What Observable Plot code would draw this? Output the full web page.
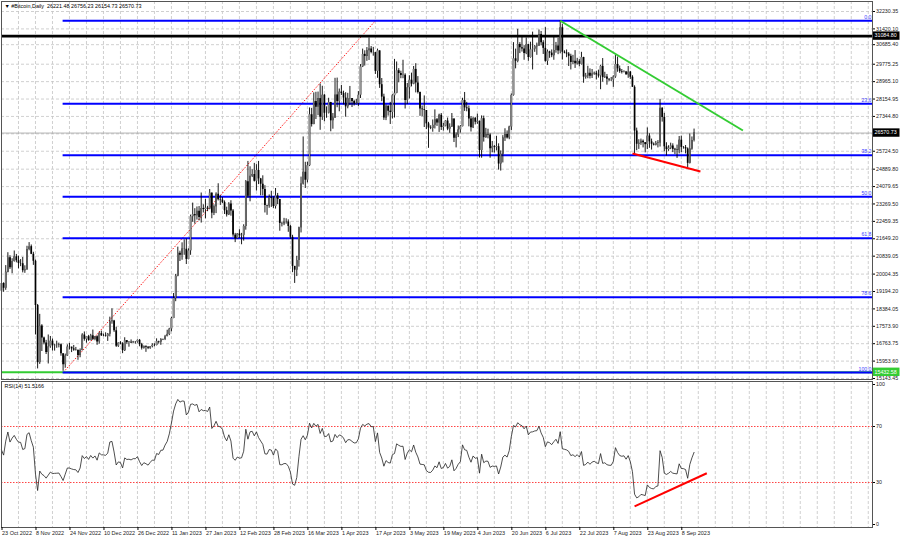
<!DOCTYPE html>
<html><head><meta charset="utf-8">
<script src="https://cdn.jsdelivr.net/npm/d3@7"></script>
<script src="https://cdn.jsdelivr.net/npm/@observablehq/plot@0.6"></script>
<style>
html,body{margin:0;padding:0;background:#fff;}
#chart{position:relative;width:900px;height:539px;overflow:hidden;font-family:"Liberation Sans",Arial,sans-serif;background:#fff;}
#chart svg{position:absolute;left:0;}
</style></head><body><div id="chart"></div>
<script>
// ---------- header / labels ----------
const headerText = "\u25BC #Bitcoin,Daily  26221.48 26756.23 26154.73 26570.73";
const rsiLabel = "RSI(14) 51.5166";
const dateLabels = ["23 Oct 2022","8 Nov 2022","24 Nov 2022","10 Dec 2022","26 Dec 2022","11 Jan 2023","27 Jan 2023","12 Feb 2023","28 Feb 2023","16 Mar 2023","1 Apr 2023","17 Apr 2023","3 May 2023","19 May 2023","4 Jun 2023","20 Jun 2023","6 Jul 2023","22 Jul 2023","7 Aug 2023","23 Aug 2023","8 Sep 2023"];
const priceTicks = [32230.35,31420.10,30685.40,29775.25,28965.10,28154.95,27344.80,25724.50,24889.80,24079.65,23269.50,22459.35,21649.20,20839.05,20004.35,19194.20,18384.05,17573.90,16763.75,15953.60,15143.45];
const hiddenGridTick = [26534.65];
const rsiTicks = [100,70,30,0];
const rsiLevels = [70,30];

// ---------- levels ----------
const blackLevel = 31084.80;
const currentPrice = 26570.73;
const greenLevel = 15432.58;
const fibHigh = 31800, fibLow = 15420;
const fibLevels = [0,23.6,38.2,50,61.8,78.6,100];
const fibStart = "2022-11-21";
const fibDiagEnd = "2023-04-17";

// ---------- trend lines [date1, value1, date2, value2] ----------
const greenTrend = ["2023-07-13",31800,"2023-10-07",26690];
const redTrend   = ["2023-08-16",25619,"2023-09-17",24781];
const rsiTrend   = ["2023-08-17",12.9,"2023-09-20",36.6];

// ---------- price data ----------
// closes before the first visible bar (1 Sep - 22 Oct 2022), used for RSI warm-up
const warmupCloses = [20127,19953,19832,19986,19812,18838,19290,19329,21382,21680,21769,22371,20296,20241,19701,19772,20127,19419,19544,18890,18547,19414,19297,18937,18803,19222,19110,19426,19573,19431,
19312,19044,19623,20336,20160,19955,19546,19416,19446,19141,19051,19157,19382,19185,19067,19268,19550,19334,19139,19053,19172,19208];
// daily [close, high, low], open = previous close
const oct22 = [[19567,19690,19070],[19345,19600,19160],[20095,20400,19250],[20771,21000,20060],[20295,20860,20220],[20592,20720,20020],[20809,21080,20560],[20627,20920,20530],[20496,20840,20250]];
const nov22 = [[20485,20680,20350],[20159,20780,20060],[20209,20390,20040],[21147,21300,20180],[21282,21470,21090],[20926,21360,20910],[20602,21020,20410],[18541,20660,17170],[15880,18590,15590],[17586,18130,15800],
[17034,17650,16400],[16800,17070,16710],[16354,16920,16260],[16618,17170,15820],[16884,17100,16550],[16669,16980,16420],[16688,16740,16420],[16697,16880,16550],[16711,16790,16570],[16291,16750,16180],
[15787,16290,15480],[16189,16280,15620],[16610,16710,16170],[16604,16780,16470],[16521,16600,16350],[16464,16680,16410],[16444,16590,16420],[16217,16480,15990],[16444,16520,16110],[17168,17230,16430]];
const dec22 = [[16968,17310,16880],[17088,17100,16790],[16908,17150,16880],[17130,17200,16900],[16974,17400,16910],[17089,17100,16900],[16848,17130,16690],[17233,17300,16740],[17133,17350,17100],[17128,17210,17090],
[17105,17270,17070],[17206,17240,16870],[17781,18000,17080],[17815,18390,17670],[17364,17850,17290],[16647,17530,16590],[16796,16800,16590],[16757,16860,16710],[16439,16810,16300],[16906,17040,16400],
[16817,16910,16740],[16830,16860,16600],[16796,16940,16770],[16847,16870,16790],[16841,16860,16740],[16919,16940,16790],[16717,16960,16620],[16552,16780,16470],[16642,16650,16510],[16602,16650,16360],[16547,16630,16490]];
const jan23 = [[16625,16630,16500],[16688,16760,16570],[16680,16760,16620],[16863,16990,16660],[16836,16880,16750],[16951,17000,16690],[16955,16980,16910],[17091,17150,16910],[17196,17390,17090],[17446,17480,17140],
[17934,17990,17320],[18869,19100,17930],[19909,19990,18720],[20976,21260,19880],[20880,21070,20590],[21169,21460,20650],[21161,21600,20880],[20688,21640,20450],[21086,21180,20670],[22676,22750,20880],
[22777,23310,22420],[22720,23050,22330],[22934,23130,22520],[22637,23150,22480],[23058,23780,22380],[23009,23230,22850],[23074,23480,22580],[23032,23160,22910],[23775,23940,23000],[22840,23780,22580],[23139,23230,22730]];
const feb23 = [[23723,23790,22820],[23471,24210,23410],[23449,23660,23200],[23331,23570,23290],[22955,23410,22780],[22760,23120,22660],[23264,23330,22730],[22939,23420,22700],[21819,23010,21720],[21651,21900,21470],
[21870,21890,21630],[21788,22070,21660],[21808,21900,21370],[22220,22300,21540],[24307,24360,22050],[23623,25250,23540],[24565,25000,23370],[24641,24860,24500],[24327,25160,24290],[24829,25100,23870],
[24436,25250,24170],[24188,24460,23650],[23947,24580,23650],[23198,24120,22850],[23175,23210,22740],[23561,23690,23070],[23522,23860,23110],[23147,23600,23060]];
const mar23 = [[23646,23990,23030],[23475,23760,23240],[22362,23480,22000],[22354,22410,22200],[22435,22600,22260],[22429,22580,22330],[22219,22530,21950],[21718,22280,21620],[20363,21810,20070],[20187,20300,19570],
[20633,20830,19890],[22163,22190,20330],[24197,24520,21920],[24746,26390,24150],[24375,25210,23990],[25052,25210,24250],[27423,27740,25010],[26966,27720,26850],[28038,28440,26960],[27767,28470,27200],
[28175,28480,27380],[27307,28860,26700],[28333,28750,27160],[27493,28360,27100],[27494,27790,27260],[27994,28190,27460],[27139,28000,26630],[27268,27480,26750],[28348,29120,27250],[28033,29130,27750],[28478,28620,27560]];
const apr23 = [[28411,28790,28320],[28199,28520,27880],[27790,28450,27310],[28168,28420,27700],[28177,28740,27850],[28044,28170,27760],[27925,28100,27830],[27947,28140,27880],[28333,28500,27810],[29653,29760,28180],
[30235,30480,29620],[30139,30400,29690],[30400,30550,29910],[30485,31000,29950],[30318,30600,30260],[30315,30560,30150],[29445,30320,29300],[30397,30480,29120],[28822,30400,28650],[28245,29110,28030],
[27276,28380,27160],[27817,27880,27150],[27591,27840,27360],[27525,28000,26970],[28307,28360,27230],[28422,30000,27270],[29473,29880,28400],[29340,29570,28910],[29249,29450,29100],[29268,29960,29100]];
const may23 = [[28091,29330,27690],[28680,28880,27900],[29032,29240,28160],[28848,29360,28720],[29535,29670,28820],[28905,29800,28440],[28454,29200,28390],[27694,28480,27350],[27658,27830,27330],[27621,28300,26830],
[27000,27610,26730],[26805,27070,25860],[26785,26910,26730],[26931,27180,26610],[27192,27650,26760],[27036,27250,26880],[27399,27450,26600],[26833,27480,26690],[26890,27020,26660],[27130,27150,26860],
[26753,27270,26680],[26851,27000,26560],[27226,27480,26830],[26334,27220,26130],[26477,26580,25880],[26719,26900,26360],[26868,26920,26570],[28086,28190,26860],[27745,28460,27580],[27703,28000,27560],[27220,27830,26860]];
const jun23 = [[26820,27340,26620],[27252,27300,26780],[27076,27300,26950],[27119,27450,26980],[25761,27130,25410],[27239,27370,25400],[26355,27360,26150],[26498,26790,26330],[26478,26750,26300],[25842,26540,25400],
[25941,26180,25650],[25905,26000,25640],[25935,26420,25740],[25129,26070,24850],[25589,25740,24800],[26338,26450,25180],[26499,26770,26180],[26340,26670,26290],[26851,26890,26260],[28327,28390,26680],
[30027,30780,28290],[29913,30480,29560],[30695,31400,29840],[30548,30780,30270],[30480,31040,30340],[30271,30640,29960],[30689,31000,30220],[30086,30700,29910],[30446,30800,30060],[30477,31270,29510]];
const jul23 = [[30590,30650,30330],[30620,30760,30190],[31156,31370,30600],[30777,31300,30630],[30514,30870,30230],[29909,31480,29870],[30346,30440,29720],[30292,30380,30050],[30171,30440,30080],[30414,31030,29960],
[30620,30790,30290],[30391,30980,30220],[31476,31800,30260],[30334,31630,29970],[30295,30400,30260],[30249,30440,30080],[30145,30320,29670],[29856,30240,29510],[29913,30190,29760],[29792,30410,29580],
[29908,30050,29740],[29771,29990,29660],[30084,30330,29740],[29176,30100,28890],[29227,29350,29080],[29354,29680,29100],[29210,29560,29090],[29319,29530,29110],[29356,29410,29260],[29275,29450,29040],[29230,29500,29130]];
const aug23 = [[29676,29730,28590],[29152,30040,28940],[29179,29400,29110],[29074,29300,28800],[29042,29100,28960],[29041,29160,28970],[29180,29240,28700],[29765,30180,29120],[29561,30110,29400],[29429,29690,29350],
[29397,29530,29320],[29415,29470,29370],[29282,29440,29260],[29408,29670,29120],[29170,29440,29070],[28701,29240,28700],[26664,28770,25600],[26049,26800,25750],[26096,26260,25810],[26189,26290,26000],
[26124,26250,25880],[26031,26130,25650],[26431,26810,25800],[26163,26540,25860],[26049,26290,25780],[26008,26110,25970],[26089,26180,25970],[26106,26220,25880],[27727,28140,25920],[27297,27750,27080],[25931,27490,25700]];
const sep23 = [[25800,26120,25500],[25868,25980,25720],[25969,26100,25800],[25812,26070,25660],[25779,25860,25570],[25753,26010,25390],[26240,26410,25600],[25905,26430,25660],[25895,25940,25820],[25832,25990,25600],
[25162,25880,24950],[25833,26530,25130],[26221.48,26390,25770],[26570.73,26756.23,26154.73]];

// ---------- build table ----------
const parse = d3.utcParse("%Y-%m-%d");
const startDate = parse("2022-10-23");
const endDate = parse("2023-12-07");
const rows = [].concat(oct22,nov22,dec22,jan23,feb23,mar23,apr23,may23,jun23,jul23,aug23,sep23);
let prev = warmupCloses[warmupCloses.length-1];
const bars = rows.map((r,i)=>{
  const o = prev, c = r[0];
  prev = c;
  return {date: d3.utcDay.offset(startDate,i), open:o, close:c,
          high: Math.max(r[1],o,c), low: Math.min(r[2],o,c), up: c>=o};
});
// RSI(14), Wilder smoothing over all closes
const allCloses = warmupCloses.concat(rows.map(r=>r[0]));
function wilderRSI(cl,n){
  const out = new Array(cl.length).fill(NaN);
  let g=0,l=0;
  for(let i=1;i<=n;i++){const d=cl[i]-cl[i-1]; if(d>0) g+=d; else l-=d;}
  g/=n; l/=n; out[n]=100-100/(1+g/l);
  for(let i=n+1;i<cl.length;i++){const d=cl[i]-cl[i-1]; g=(g*(n-1)+Math.max(d,0))/n; l=(l*(n-1)+Math.max(-d,0))/n; out[i]= l===0?100:100-100/(1+g/l);}
  return out;
}
const rsiAll = wilderRSI(allCloses,14);
const rsiData = bars.map((b,i)=>({date:b.date, rsi: rsiAll[i+warmupCloses.length]}));

const labelDates = dateLabels.map(d3.utcParse("%e %b %Y"));
const gridDates = d3.utcDay.range(startDate, endDate, 8);
const fmtDate = d3.utcFormat("%-d %b %Y");
const fibPrice = lv => fibHigh - (fibHigh-fibLow)*lv/100;
const seg = a => ({x1:parse(a[0]), y1:a[1], x2:parse(a[2]), y2:a[3]});

const FONT = "Liberation Sans, Arial, sans-serif";
const gridStyle = {stroke:"#c4c4c4", strokeDasharray:"3,2", strokeWidth:0.8};

function tag(value, text, bg){
  return Plot.dot([value], {y: d=>d, frameAnchor:"right", r:0,
    render(index, scales, values, dims){
      const y = values.y[index[0]];
      const x0 = dims.width - dims.marginRight;
      const g = d3.create("svg:g");
      g.append("rect").attr("x", x0+1).attr("y", y-4.2).attr("width", 26.5).attr("height", 8.4).attr("fill", bg);
      g.append("text").attr("x", x0+2.5).attr("y", y).attr("dy","0.35em").attr("fill","#fff")
        .attr("text-anchor","start").style("font-size","5.3px").style("font-family", FONT).text(text);
      return g.node();
    }});
}

const xScale = {type:"utc", domain:[startDate,endDate], range:[1,872], axis:null};

const main = Plot.plot({
  width:900, height:380, marginTop:1, marginBottom:1, marginLeft:1, marginRight:28,
  x: xScale,
  y: {domain:[15143.45,32230.35], range:[378,11], axis:null},
  style:{background:"transparent", fontFamily:FONT, fontSize:"5.3px", overflow:"visible"},
  marks:[
    Plot.ruleX(gridDates, {x:d=>d, ...gridStyle}),
    Plot.ruleY(priceTicks.concat(hiddenGridTick), {y:d=>d, ...gridStyle}),
    Plot.ruleY([currentPrice], {y:d=>d, stroke:"#a0a0a0", strokeWidth:0.8}),
    Plot.link([seg([fibStart,fibLow,fibDiagEnd,fibHigh])], {x1:"x1",y1:"y1",x2:"x2",y2:"y2", stroke:"#ff0000", strokeWidth:0.9, strokeDasharray:"1.5,1.5"}),
    Plot.ruleY([blackLevel], {y:d=>d, stroke:"#000", strokeWidth:2.6}),
    Plot.ruleY([greenLevel], {y:d=>d, stroke:"#33cc33", strokeWidth:2}),
    Plot.ruleY(fibLevels, {y:fibPrice, x1:()=>parse(fibStart), x2:()=>endDate, stroke:"#0000ff", strokeWidth:2}),
    Plot.text(fibLevels, {y:fibPrice, frameAnchor:"right", text:d=>d.toFixed(1), textAnchor:"end", dx:-1, dy:-3.6, fill:"#4040ff", fontSize:5.2}),
    Plot.ruleX(bars, {x:"date", y1:"low", y2:"high", stroke:"#000", strokeWidth:0.9}),
    Plot.ruleX(bars, {x:"date", y1:"open", y2:"close", stroke:"#000", strokeWidth:1.7}),
    Plot.ruleX(bars.filter(b=>b.up), {x:"date", y1:"open", y2:"close", stroke:"#fff", strokeWidth:0.6}),
    Plot.link([seg(greenTrend)], {x1:"x1",y1:"y1",x2:"x2",y2:"y2", stroke:"#33cc33", strokeWidth:2}),
    Plot.link([seg(redTrend)], {x1:"x1",y1:"y1",x2:"x2",y2:"y2", stroke:"#ff0000", strokeWidth:2}),
    Plot.frame({stroke:"#555", strokeWidth:1}),
    Plot.axisY(priceTicks, {anchor:"right", tickSize:2, tickPadding:1.5, tickFormat:d=>d.toFixed(2), fontSize:5.3, fill:"#222"}),
    tag(blackLevel, blackLevel.toFixed(2), "#000"),
    tag(currentPrice, currentPrice.toFixed(2), "#000"),
    tag(greenLevel, greenLevel.toFixed(2), "#33cc33"),
    Plot.text([headerText], {frameAnchor:"top-left", dx:3, dy:2.5, textAnchor:"start", lineAnchor:"top", fontSize:5.4, fill:"#000"})
  ]
});
main.style.top = "0px";

const rsiPlot = Plot.plot({
  width:900, height:159, marginTop:1, marginBottom:12, marginLeft:1, marginRight:28,
  x: xScale,
  y: {domain:[0,100], range:[144,4], axis:null},
  style:{background:"transparent", fontFamily:FONT, fontSize:"5.3px", overflow:"visible"},
  marks:[
    Plot.ruleX(gridDates, {x:d=>d, ...gridStyle}),
    Plot.ruleY(rsiLevels, {y:d=>d, stroke:"#ff3030", strokeWidth:0.9, strokeDasharray:"1.5,1.5"}),
    Plot.line(rsiData, {x:"date", y:"rsi", stroke:"#222", strokeWidth:0.8}),
    Plot.link([seg(rsiTrend)], {x1:"x1",y1:"y1",x2:"x2",y2:"y2", stroke:"#ff0000", strokeWidth:2}),
    Plot.frame({stroke:"#555", strokeWidth:1}),
    Plot.axisY(rsiTicks, {anchor:"right", tickSize:2, tickPadding:1.5, fontSize:5.3, fill:"#222"}),
    Plot.axisX(labelDates, {anchor:"bottom", tickSize:3, tickPadding:1, tickFormat:fmtDate, textAnchor:"start", dx:0.5, fontSize:5.5, fill:"#222"}),
    Plot.text([rsiLabel], {frameAnchor:"top-left", dx:3, dy:2.5, textAnchor:"start", lineAnchor:"top", fontSize:5.4, fill:"#000"})
  ]
});
rsiPlot.style.top = "380px";

const root = document.getElementById("chart");
root.append(main, rsiPlot);
</script></body></html>
